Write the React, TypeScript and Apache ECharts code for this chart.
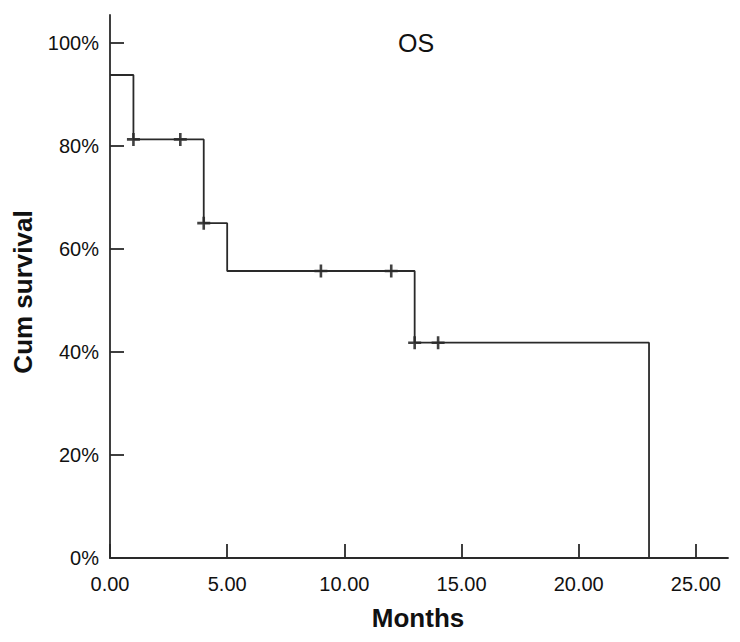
import React, { useEffect, useRef } from "react";
import * as echarts from "echarts";

const stepTimes = [0, 1, 4, 5, 13, 23];
const stepSurvival = [93.75, 81.25, 65.0, 55.71, 41.79, 0];
const censorTimes = [1, 3, 4, 9, 12, 13, 14];
const censorSurvival = [81.25, 81.25, 65.0, 55.71, 55.71, 41.79, 41.79];
const xTicks = [0, 5, 10, 15, 20, 25];
const yTicks = [0, 20, 40, 60, 80, 100];

const FONT = "'Liberation Sans', Arial, sans-serif";
const plusPath = "path://M4.8,0H7.2V4.8H12V7.2H7.2V12H4.8V7.2H0V4.8H4.8Z";

export default function App() {
  const ref = useRef<HTMLDivElement>(null);
  useEffect(() => {
    if (!ref.current) return;
    const chart = echarts.init(ref.current, undefined, { renderer: "svg" });
    const axisColor = "#2a2a2a";
    chart.setOption({
      animation: false,
      backgroundColor: "#fff",
      grid: { left: 110, top: 15, right: 12, bottom: 84, containLabel: false },
      xAxis: {
        type: "value",
        min: 0,
        max: 26.37,
        axisLine: { show: true, onZero: false, lineStyle: { color: axisColor, width: 1.8 } },
        axisTick: { show: true, inside: true, length: 14, customValues: xTicks, lineStyle: { color: axisColor, width: 1.8 } },
        axisLabel: {
          customValues: xTicks,
          formatter: (v: number) => v.toFixed(2),
          color: "#111",
          fontSize: 20,
          fontFamily: FONT,
          margin: 16,
        },
        splitLine: { show: false },
      },
      yAxis: {
        type: "value",
        min: 0,
        max: 105.4,
        axisLine: { show: true, onZero: false, lineStyle: { color: axisColor, width: 1.8 } },
        axisTick: { show: true, inside: true, length: 14, customValues: yTicks, lineStyle: { color: axisColor, width: 1.8 } },
        axisLabel: {
          customValues: yTicks,
          formatter: (v: number) => v + "%",
          color: "#111",
          fontSize: 20,
          fontFamily: FONT,
          margin: 11,
        },
        splitLine: { show: false },
      },
      graphic: [
        {
          type: "text",
          x: 416,
          y: 43,
          style: { text: "OS", font: `25px ${FONT}`, fill: "#111", align: "center", verticalAlign: "middle" },
        },
        {
          type: "text",
          x: 418,
          y: 618,
          style: { text: "Months", font: `bold 26px ${FONT}`, fill: "#111", align: "center", verticalAlign: "middle" },
        },
        {
          type: "text",
          x: 23,
          y: 292,
          rotation: Math.PI / 2,
          style: { text: "Cum survival", font: `bold 26px ${FONT}`, fill: "#111", align: "center", verticalAlign: "middle" },
        },
      ],
      series: [
        {
          type: "line",
          step: "end",
          data: stepTimes.map((t, i) => [t, stepSurvival[i]]),
          symbol: "none",
          lineStyle: { color: "#2a2a2a", width: 1.8 },
        },
        {
          type: "scatter",
          data: censorTimes.map((t, i) => [t, censorSurvival[i]]),
          symbol: plusPath,
          symbolSize: 13,
          itemStyle: { color: "#111" },
        },
      ],
    });
    return () => chart.dispose();
  }, []);
  return <div ref={ref} style={{ width: 740, height: 642, position: "absolute", left: 0, top: 0 }} />;
}
